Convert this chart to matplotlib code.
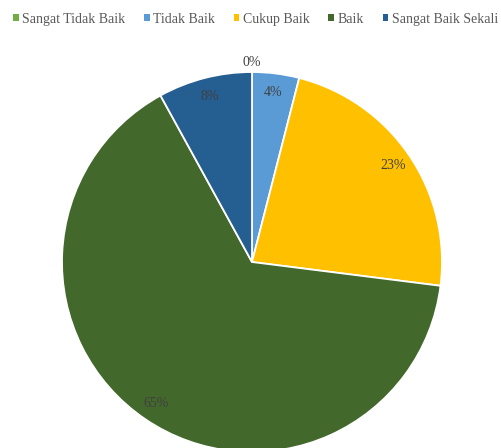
import matplotlib.pyplot as plt
import numpy as np

plt.rcParams['font.family'] = ['Liberation Serif', 'DejaVu Serif']

# data
labels = ["Sangat Tidak Baik", "Tidak Baik", "Cukup Baik", "Baik", "Sangat Baik Sekali"]
values = [0, 4, 23, 65, 8]
colors = ["#70AD47", "#5B9BD5", "#FFC000", "#43682B", "#255E91"]

fig = plt.figure(figsize=(5.01, 4.48), dpi=100)
ax = fig.add_axes([0, 0, 1, 1])

cx, cy, r = 252, 186, 190
wedges, _ = ax.pie(values, colors=colors, startangle=90, counterclock=False,
                   center=(cx, cy), radius=r, frame=True,
                   wedgeprops=dict(edgecolor="white", linewidth=1.3))
ax.set_xlim(0, 501)
ax.set_ylim(0, 448)
ax.set_aspect("equal")
ax.axis("off")

# percent labels at mid angle of each wedge
total = sum(values)
cum = 0
for v in values:
    mid = (cum + v / 2) / total * 2 * np.pi
    cum += v
    d = 0.9 * r if v > 0 else 1.05 * r
    ax.text(cx + d * np.sin(mid), cy + d * np.cos(mid), f"{v}%",
            ha="center", va="center", fontsize=10, color="#404040")

leg = fig.legend(wedges, labels, loc="upper left", bbox_to_anchor=(0.01, 0.99),
                 ncol=5, frameon=False, fontsize=10, handlelength=0.4,
                 handleheight=0.4, handletextpad=0.25, columnspacing=1.35,
                 borderaxespad=0.2, labelcolor="#595959")
for h in leg.legend_handles:
    h.set_edgecolor("none")

fig.savefig("out.png", dpi=100)
